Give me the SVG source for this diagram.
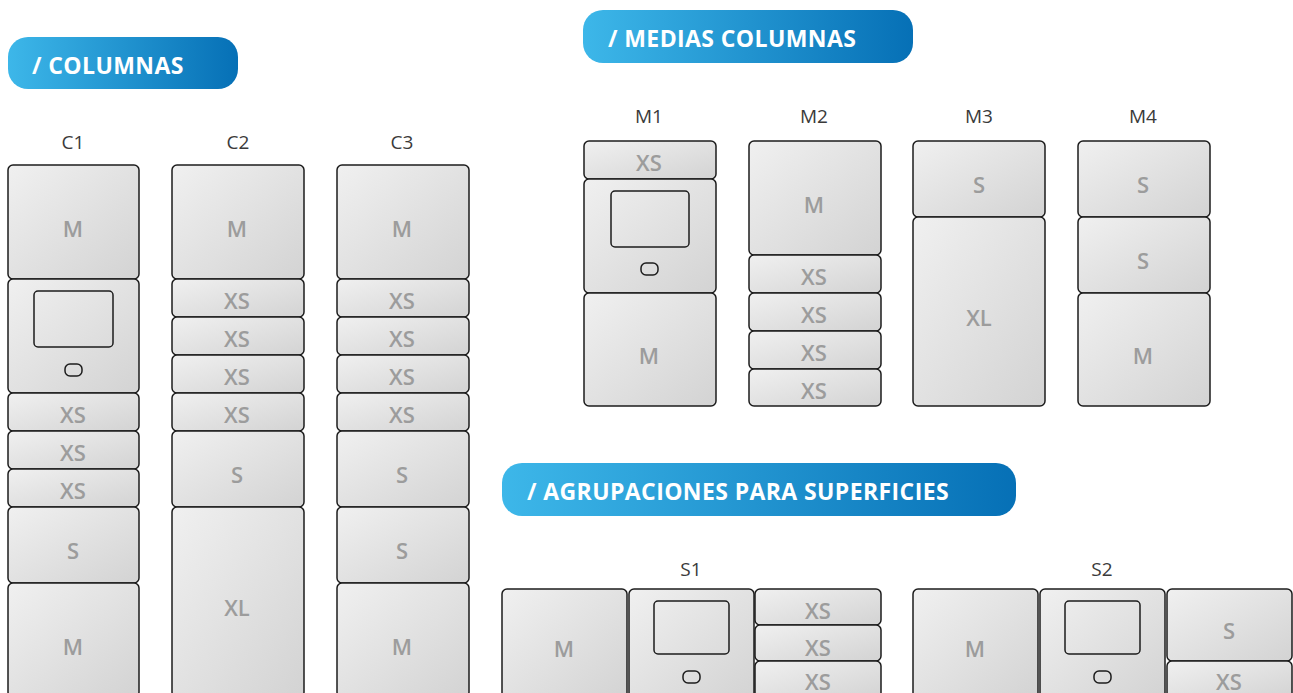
<svg xmlns="http://www.w3.org/2000/svg" width="1293" height="693" viewBox="0 0 1293 693">
<defs>
<linearGradient id="bg" x1="0" y1="0" x2="1" y2="1"><stop offset="0" stop-color="#f0f0f0"/><stop offset="1" stop-color="#d3d3d3"/></linearGradient>
<linearGradient id="ban" x1="0" y1="0" x2="1" y2="0"><stop offset="0" stop-color="#3db7e9"/><stop offset="1" stop-color="#0670b6"/></linearGradient>
</defs>
<style>
.b{fill:url(#bg);stroke:#1c1c1c;stroke-width:1.5}
.scr{fill:none;stroke:#1c1c1c;stroke-width:1.5}
.l{font-family:"Open Sans","Liberation Sans",sans-serif;font-weight:600;font-size:22px;fill:#9c9c9c;text-anchor:middle;dominant-baseline:central}
.t{font-family:"Open Sans","Liberation Sans",sans-serif;font-weight:400;font-size:19px;fill:#3a3a3a;text-anchor:middle;dominant-baseline:central}
.bt{font-family:"Open Sans","Liberation Sans",sans-serif;font-weight:700;font-size:23px;letter-spacing:0.4px;fill:#fff;dominant-baseline:central}
</style>
<rect width="1293" height="693" fill="#fff"/>

<g id="banner-columnas"><rect x="8" y="37" width="230" height="52" rx="20" fill="url(#ban)"/><text class="bt" x="32" y="65">/ COLUMNAS</text></g>
<g id="banner-medias"><rect x="583" y="10" width="330" height="53" rx="20" fill="url(#ban)"/><text class="bt" x="608" y="38">/ MEDIAS COLUMNAS</text></g>
<g id="banner-agrup"><rect x="502" y="463" width="514" height="53" rx="20" fill="url(#ban)"/><text class="bt" x="527" y="491">/ AGRUPACIONES PARA SUPERFICIES</text></g>

<g id="C1">
<text class="t" x="73" y="142">C1</text>
<rect class="b" x="8" y="165" width="131" height="114" rx="5"/><text class="l" x="73" y="228">M</text>
<rect class="b" x="8" y="279" width="131" height="114" rx="5"/><rect class="scr" x="34" y="291" width="79" height="56" rx="4"/><rect class="scr" x="65" y="364" width="17" height="12" rx="5"/>
<rect class="b" x="8" y="393" width="131" height="38" rx="5"/><text class="l" x="73" y="414">XS</text>
<rect class="b" x="8" y="431" width="131" height="38" rx="5"/><text class="l" x="73" y="452">XS</text>
<rect class="b" x="8" y="469" width="131" height="38" rx="5"/><text class="l" x="73" y="490">XS</text>
<rect class="b" x="8" y="507" width="131" height="76" rx="5"/><text class="l" x="73" y="550">S</text>
<rect class="b" x="8" y="583" width="131" height="114" rx="5"/><text class="l" x="73" y="646">M</text>
</g>
<g id="C2">
<text class="t" x="238" y="142">C2</text>
<rect class="b" x="172" y="165" width="132" height="114" rx="5"/><text class="l" x="237" y="228">M</text>
<rect class="b" x="172" y="279" width="132" height="38" rx="5"/><text class="l" x="237" y="300">XS</text>
<rect class="b" x="172" y="317" width="132" height="38" rx="5"/><text class="l" x="237" y="338">XS</text>
<rect class="b" x="172" y="355" width="132" height="38" rx="5"/><text class="l" x="237" y="376">XS</text>
<rect class="b" x="172" y="393" width="132" height="38" rx="5"/><text class="l" x="237" y="414">XS</text>
<rect class="b" x="172" y="431" width="132" height="76" rx="5"/><text class="l" x="237" y="474">S</text>
<rect class="b" x="172" y="507" width="132" height="190" rx="5"/><text class="l" x="237" y="607">XL</text>
</g>
<g id="C3">
<text class="t" x="402" y="142">C3</text>
<rect class="b" x="337" y="165" width="132" height="114" rx="5"/><text class="l" x="402" y="228">M</text>
<rect class="b" x="337" y="279" width="132" height="38" rx="5"/><text class="l" x="402" y="300">XS</text>
<rect class="b" x="337" y="317" width="132" height="38" rx="5"/><text class="l" x="402" y="338">XS</text>
<rect class="b" x="337" y="355" width="132" height="38" rx="5"/><text class="l" x="402" y="376">XS</text>
<rect class="b" x="337" y="393" width="132" height="38" rx="5"/><text class="l" x="402" y="414">XS</text>
<rect class="b" x="337" y="431" width="132" height="76" rx="5"/><text class="l" x="402" y="474">S</text>
<rect class="b" x="337" y="507" width="132" height="76" rx="5"/><text class="l" x="402" y="550">S</text>
<rect class="b" x="337" y="583" width="132" height="114" rx="5"/><text class="l" x="402" y="646">M</text>
</g>

<g id="M1">
<text class="t" x="649" y="116">M1</text>
<rect class="b" x="584" y="141" width="132" height="38" rx="5"/><text class="l" x="649" y="162">XS</text>
<rect class="b" x="584" y="179" width="132" height="114" rx="5"/><rect class="scr" x="611" y="191" width="78" height="56" rx="4"/><rect class="scr" x="641" y="263" width="17" height="12" rx="5"/>
<rect class="b" x="584" y="293" width="132" height="113" rx="5"/><text class="l" x="649" y="355">M</text>
</g>
<g id="M2">
<text class="t" x="814" y="116">M2</text>
<rect class="b" x="749" y="141" width="132" height="114" rx="5"/><text class="l" x="814" y="204">M</text>
<rect class="b" x="749" y="255" width="132" height="38" rx="5"/><text class="l" x="814" y="276">XS</text>
<rect class="b" x="749" y="293" width="132" height="38" rx="5"/><text class="l" x="814" y="314">XS</text>
<rect class="b" x="749" y="331" width="132" height="38" rx="5"/><text class="l" x="814" y="352">XS</text>
<rect class="b" x="749" y="369" width="132" height="37" rx="5"/><text class="l" x="814" y="390">XS</text>
</g>
<g id="M3">
<text class="t" x="979" y="116">M3</text>
<rect class="b" x="913" y="141" width="132" height="76" rx="5"/><text class="l" x="979" y="184">S</text>
<rect class="b" x="913" y="217" width="132" height="189" rx="5"/><text class="l" x="979" y="317">XL</text>
</g>
<g id="M4">
<text class="t" x="1143" y="116">M4</text>
<rect class="b" x="1078" y="141" width="132" height="76" rx="5"/><text class="l" x="1143" y="184">S</text>
<rect class="b" x="1078" y="217" width="132" height="76" rx="5"/><text class="l" x="1143" y="260">S</text>
<rect class="b" x="1078" y="293" width="132" height="113" rx="5"/><text class="l" x="1143" y="355">M</text>
</g>

<g id="S1">
<text class="t" x="691" y="569">S1</text>
<rect class="b" x="502" y="589" width="125" height="110" rx="5"/><text class="l" x="564" y="648">M</text>
<rect class="b" x="629" y="589" width="125" height="110" rx="5"/><rect class="scr" x="654" y="601" width="75" height="53" rx="4"/><rect class="scr" x="683" y="671" width="17" height="12" rx="5"/>
<rect class="b" x="755" y="589" width="126" height="36" rx="5"/><text class="l" x="818" y="610">XS</text>
<rect class="b" x="755" y="625" width="126" height="36" rx="5"/><text class="l" x="818" y="647">XS</text>
<rect class="b" x="755" y="661" width="126" height="38" rx="5"/><text class="l" x="818" y="681">XS</text>
</g>
<g id="S2">
<text class="t" x="1102" y="569">S2</text>
<rect class="b" x="913" y="589" width="125" height="110" rx="5"/><text class="l" x="975" y="648">M</text>
<rect class="b" x="1040" y="589" width="125" height="110" rx="5"/><rect class="scr" x="1065" y="601" width="75" height="53" rx="4"/><rect class="scr" x="1094" y="671" width="17" height="12" rx="5"/>
<rect class="b" x="1167" y="589" width="125" height="72" rx="5"/><text class="l" x="1229" y="630">S</text>
<rect class="b" x="1167" y="661" width="125" height="38" rx="5"/><text class="l" x="1229" y="681">XS</text>
</g>
<g id="connectors"/>
</svg>
